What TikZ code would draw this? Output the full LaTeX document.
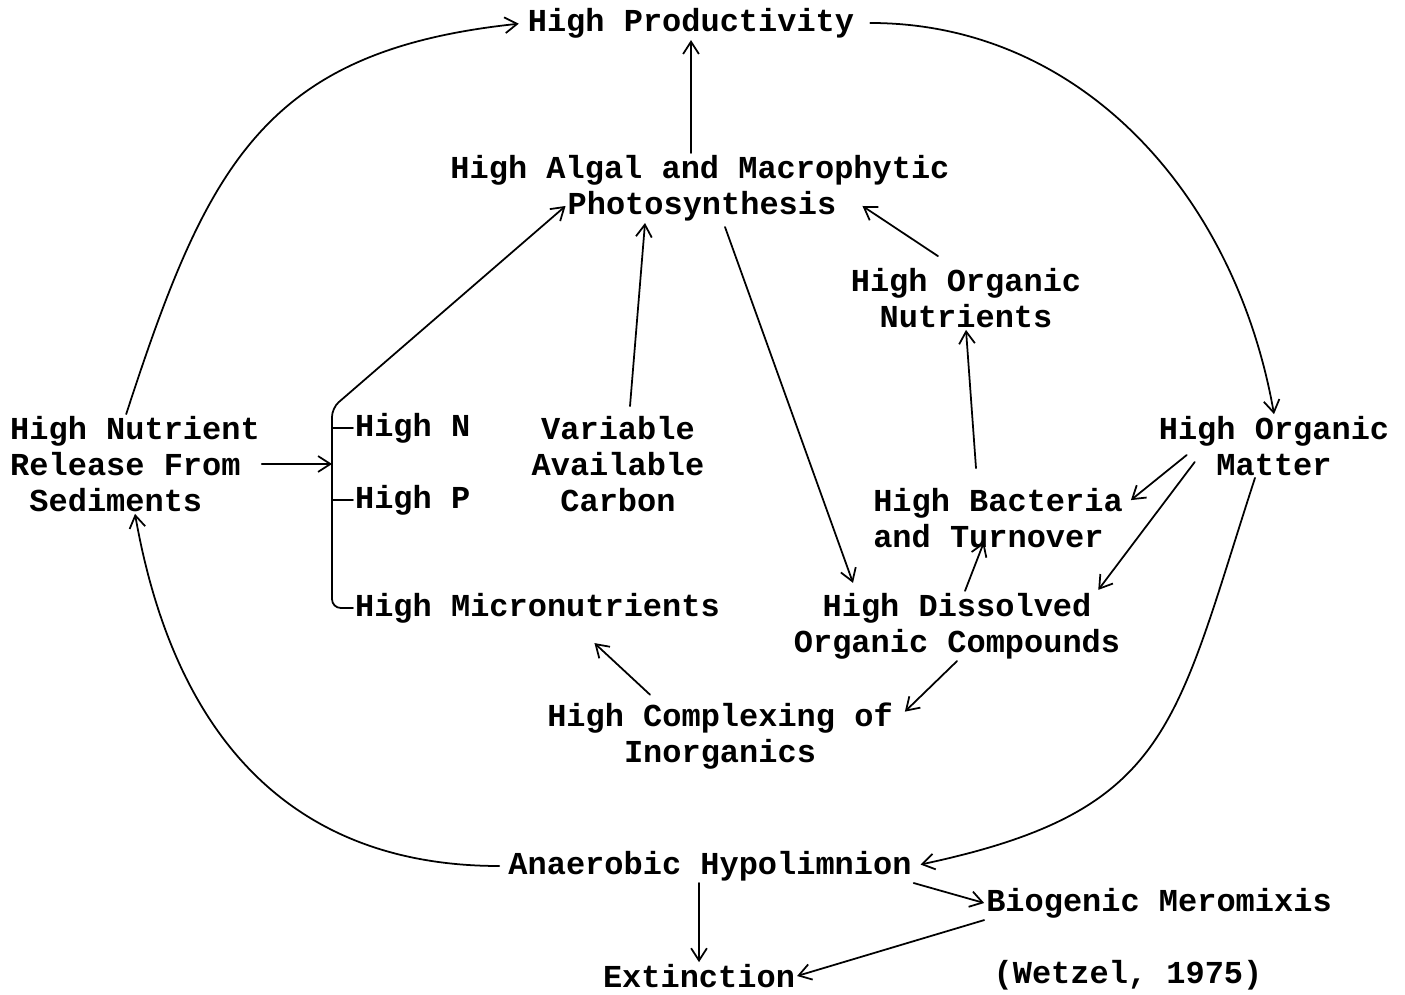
\documentclass[tikz,border=0pt]{standalone}
\usepackage{fontspec}
\newfontfamily\typewriterfont{Liberation Mono}
\usetikzlibrary{arrows.meta, calc}

\begin{document}
\begin{tikzpicture}[x=0.2mm, y=0.2mm, line cap=round, line join=round,
  every node/.style={font={\typewriterfont\bfseries\fontsize{18.2}{20.5}\selectfont}, inner sep=1pt},
  flow/.style={-{Straight Barb[length=7pt, width=9pt]}, line width=1pt}]

\useasboundingbox (0,0) rectangle (1405,994);

% Text boxes
\node (prod) at (691,971) {High Productivity};
\node (algal) at (700,824) {High Algal and Macrophytic};
\node (photo) at (702,788) {Photosynthesis};
\node[align=center] (orgnut) at (966,696) {High Organic\\Nutrients};
\node[align=left] (nutrel) at (135,530) {High Nutrient\\Release From\\\hspace*{0.6em}Sediments};
\node[anchor=west] (hiN) at (353,566) {High N};
\node[anchor=west] (hiP) at (353,494) {High P};
\node[anchor=west] (micro) at (353,386) {High Micronutrients};
\node[align=center] (varc) at (618,530) {Variable\\Available\\Carbon};
\node[align=center] (matter) at (1274,548) {High Organic\\Matter};
\node[align=left] (bact) at (998,476) {High Bacteria\\and Turnover};
\node[align=center] (dissolved) at (957,368) {High Dissolved\\Organic Compounds};
\node[align=center] (complex) at (720,258) {High Complexing of\\Inorganics};
\node (anaer) at (710,128) {Anaerobic Hypolimnion};
\node (biog) at (1159,91) {Biogenic Meromixis};
\node (extinct) at (699,18) {Extinction};
\node (wetzel) at (1128,19) {(Wetzel, 1975)};

\coordinate (brk) at (332,586);

% Outer loop
\draw[flow, shorten >=4pt] (nutrel.100) to[out=72, in=186, looseness=1.2] (prod.west);
\draw[flow, shorten <=8pt] (prod.east) to[out=0, in=100] (matter.north);
\draw[flow, shorten >=4pt] ($(matter.south)+(-19,0)$) to[out=252, in=12, looseness=1.3] (anaer.east);
\draw[flow, shorten <=4pt] (anaer.west) to[out=180, in=280, looseness=1.1] (nutrel.south);

% Nutrient bracket
\draw[flow] (nutrel.east) -- (nutrel.east -| brk);
\draw[flow, rounded corners=5pt] (micro.west) -| (brk) -- (photo.west);
\draw[line width=1pt] (hiN.west) -- (hiN.west -| brk);
\draw[line width=1pt] (hiP.west) -- (hiP.west -| brk);

% Inner arrows
\draw[flow] (algal.north -| prod.south) -- (prod.south);
\draw[flow] ($(varc.north)+(12,8)$) -- ($(photo.south)+(-57,0)$);
\draw[flow] ($(photo.south)+(23,-4)$) -- ($(dissolved.north)+(-104,8)$);
\draw[flow] ($(orgnut.north)+(-28,10)$) -- ($(photo.east)+(24,0)$);
\draw[flow] ($(bact.north)+(-22,18)$) -- (orgnut.south);
\draw[flow] ($(matter.west)+(30,-9)$) -- ($(bact.north east)+(6,-14)$);
\draw[flow] ($(matter.west)+(38,-16)$) -- ($(dissolved.north east)+(-24,1)$);
\draw[flow] ($(dissolved.north)+(8,0)$) -- ($(bact.south)+(-14,8)$);
\draw[flow] (dissolved.south) -- ($(complex.north east)+(10,-11)$);
\draw[flow] ($(complex.north)+(-70,6)$) -- ($(micro.south)+(57,-18)$);

% Bottom row
\draw[flow] (anaer.south -| extinct.north) -- (extinct.north);
\draw[flow] (anaer.south east) -- (biog.west);
\draw[flow] (biog.south west) -- (extinct.east);

\end{tikzpicture}
\end{document}
